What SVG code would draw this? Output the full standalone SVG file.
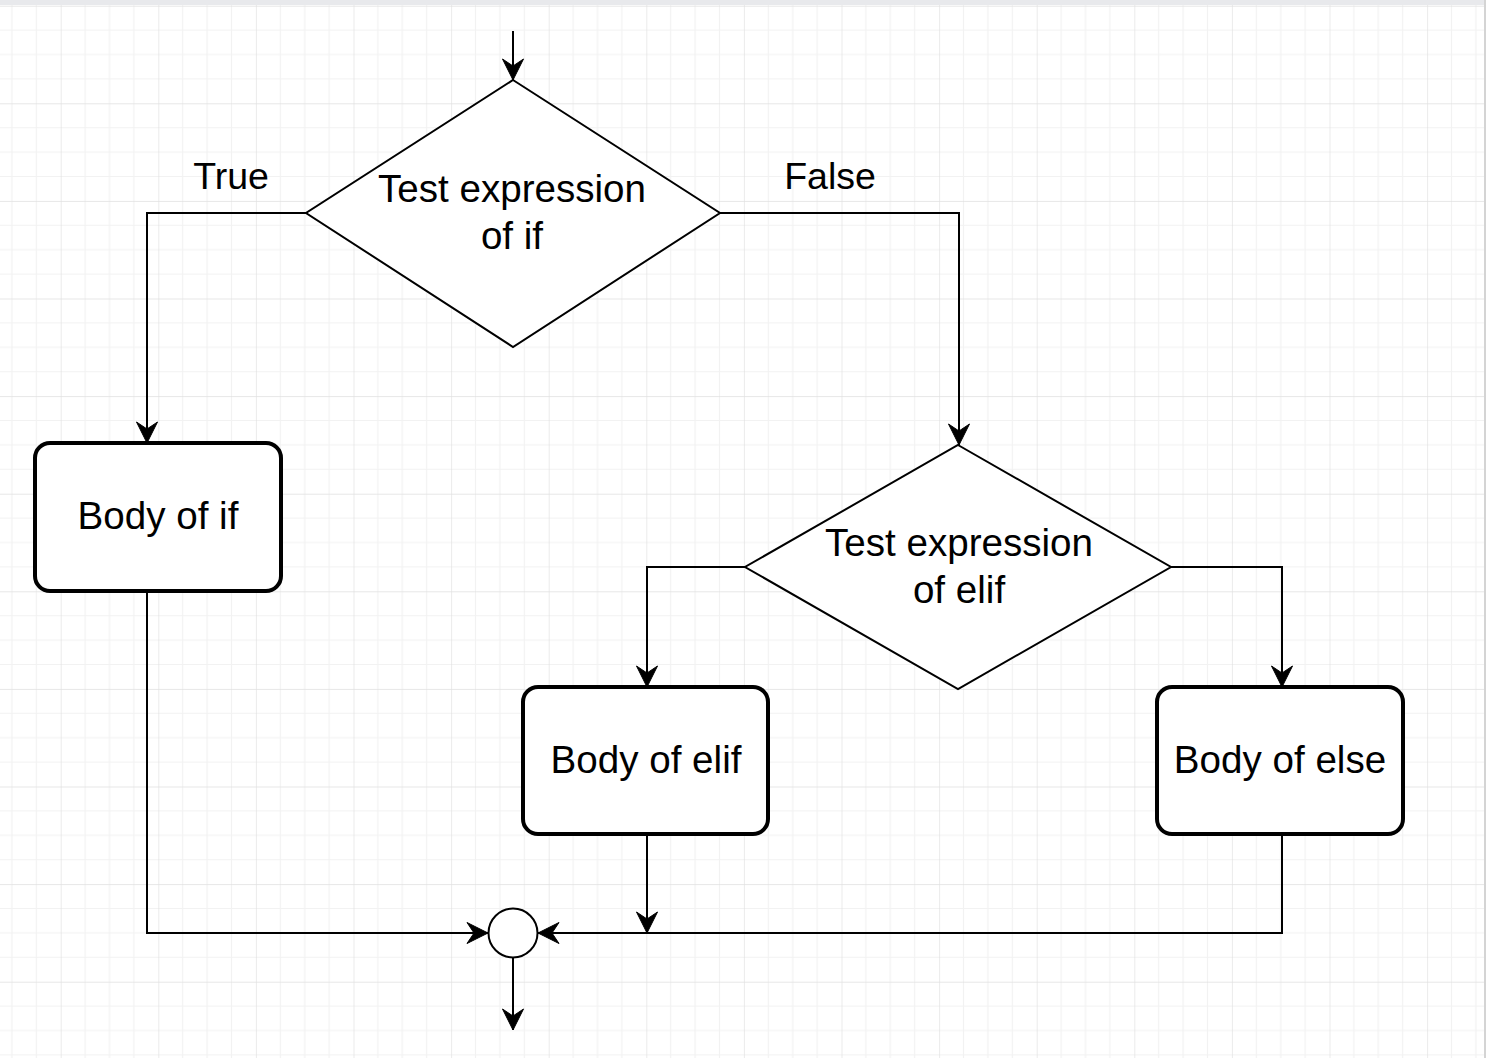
<svg xmlns="http://www.w3.org/2000/svg" width="1486" height="1058" viewBox="0 0 1486 1058">
  <style>
    .node { fill: #ffffff; stroke: #000000; }
    .diamond { stroke-width: 2; }
    .box { stroke-width: 4; }
    .conn { fill: none; stroke: #000000; stroke-width: 2; }
    .arr { marker-end: url(#arrow); }
    text { font-family: "Liberation Sans", Arial, Helvetica, sans-serif; font-size: 38.6px; fill: #000000; text-anchor: middle; }
    .lbl { font-size: 37.5px; }
  </style>
  <defs>
    <pattern id="grid" patternUnits="userSpaceOnUse" x="-36.9" y="5.7" width="97.6" height="97.6">
      <path d="M24.4,0 V97.6 M48.8,0 V97.6 M73.2,0 V97.6 M0,24.4 H97.6 M0,48.8 H97.6 M0,73.2 H97.6" fill="none" stroke="#f2f2f2" stroke-width="1.2"/>
      <path d="M0,0 V97.6 M0,0 H97.6" fill="none" stroke="#e0e0e0" stroke-width="1.3"/>
    </pattern>
    <marker id="arrow" markerUnits="userSpaceOnUse" markerWidth="26" markerHeight="26" viewBox="-23 -13 26 26" refX="0" refY="0" orient="auto">
      <path d="M0,0 L-21,-10.5 L-14,0 L-21,10.5 Z" fill="#000000" stroke="#000000" stroke-width="1" stroke-linejoin="miter"/>
    </marker>
  </defs>

  <rect x="0" y="0" width="1486" height="1058" fill="#ffffff"/>
  <rect x="0" y="0" width="1486" height="1058" fill="url(#grid)"/>
  <rect x="0" y="0" width="1486" height="5" fill="#e8e9ec"/>
  <rect x="1484" y="0" width="2" height="1058" fill="#d4d4d4"/>

  <g id="connectors">
    <path class="conn arr" d="M513,31 V80"/>
    <path class="conn arr" d="M306,213 H147 V443"/>
    <path class="conn arr" d="M720,213 H959 V445"/>
    <path class="conn arr" d="M745,567 H647 V687"/>
    <path class="conn arr" d="M1171,567 H1282 V687"/>
    <path class="conn arr" d="M147,591 V933 H488"/>
    <path class="conn arr" d="M1282,835 V933 H538"/>
    <path class="conn arr" d="M647,835 V933"/>
    <path class="conn arr" d="M513,958 V1030"/>
  </g>

  <g id="labels">
    <text class="lbl" x="231" y="189">True</text>
    <text class="lbl" x="830" y="189">False</text>
  </g>

  <g id="test-if">
    <polygon class="node diamond" points="513,80 720,213 513,347 306,213"/>
    <text x="512" y="202">Test expression</text>
    <text x="512" y="249">of if</text>
  </g>

  <g id="body-if">
    <rect class="node box" x="35" y="443" width="246" height="148" rx="15" ry="15"/>
    <text x="158" y="529">Body of if</text>
  </g>

  <g id="test-elif">
    <polygon class="node diamond" points="958,445 1171,567 958,689 745,567"/>
    <text x="959" y="556">Test expression</text>
    <text x="959" y="603">of elif</text>
  </g>

  <g id="body-elif">
    <rect class="node box" x="523" y="687" width="245" height="147" rx="15" ry="15"/>
    <text x="646" y="773">Body of elif</text>
  </g>

  <g id="body-else">
    <rect class="node box" x="1157" y="687" width="246" height="147" rx="15" ry="15"/>
    <text x="1280" y="773">Body of else</text>
  </g>

  <g id="merge">
    <circle class="node" cx="513" cy="933" r="24.5" stroke-width="2"/>
  </g>
</svg>
